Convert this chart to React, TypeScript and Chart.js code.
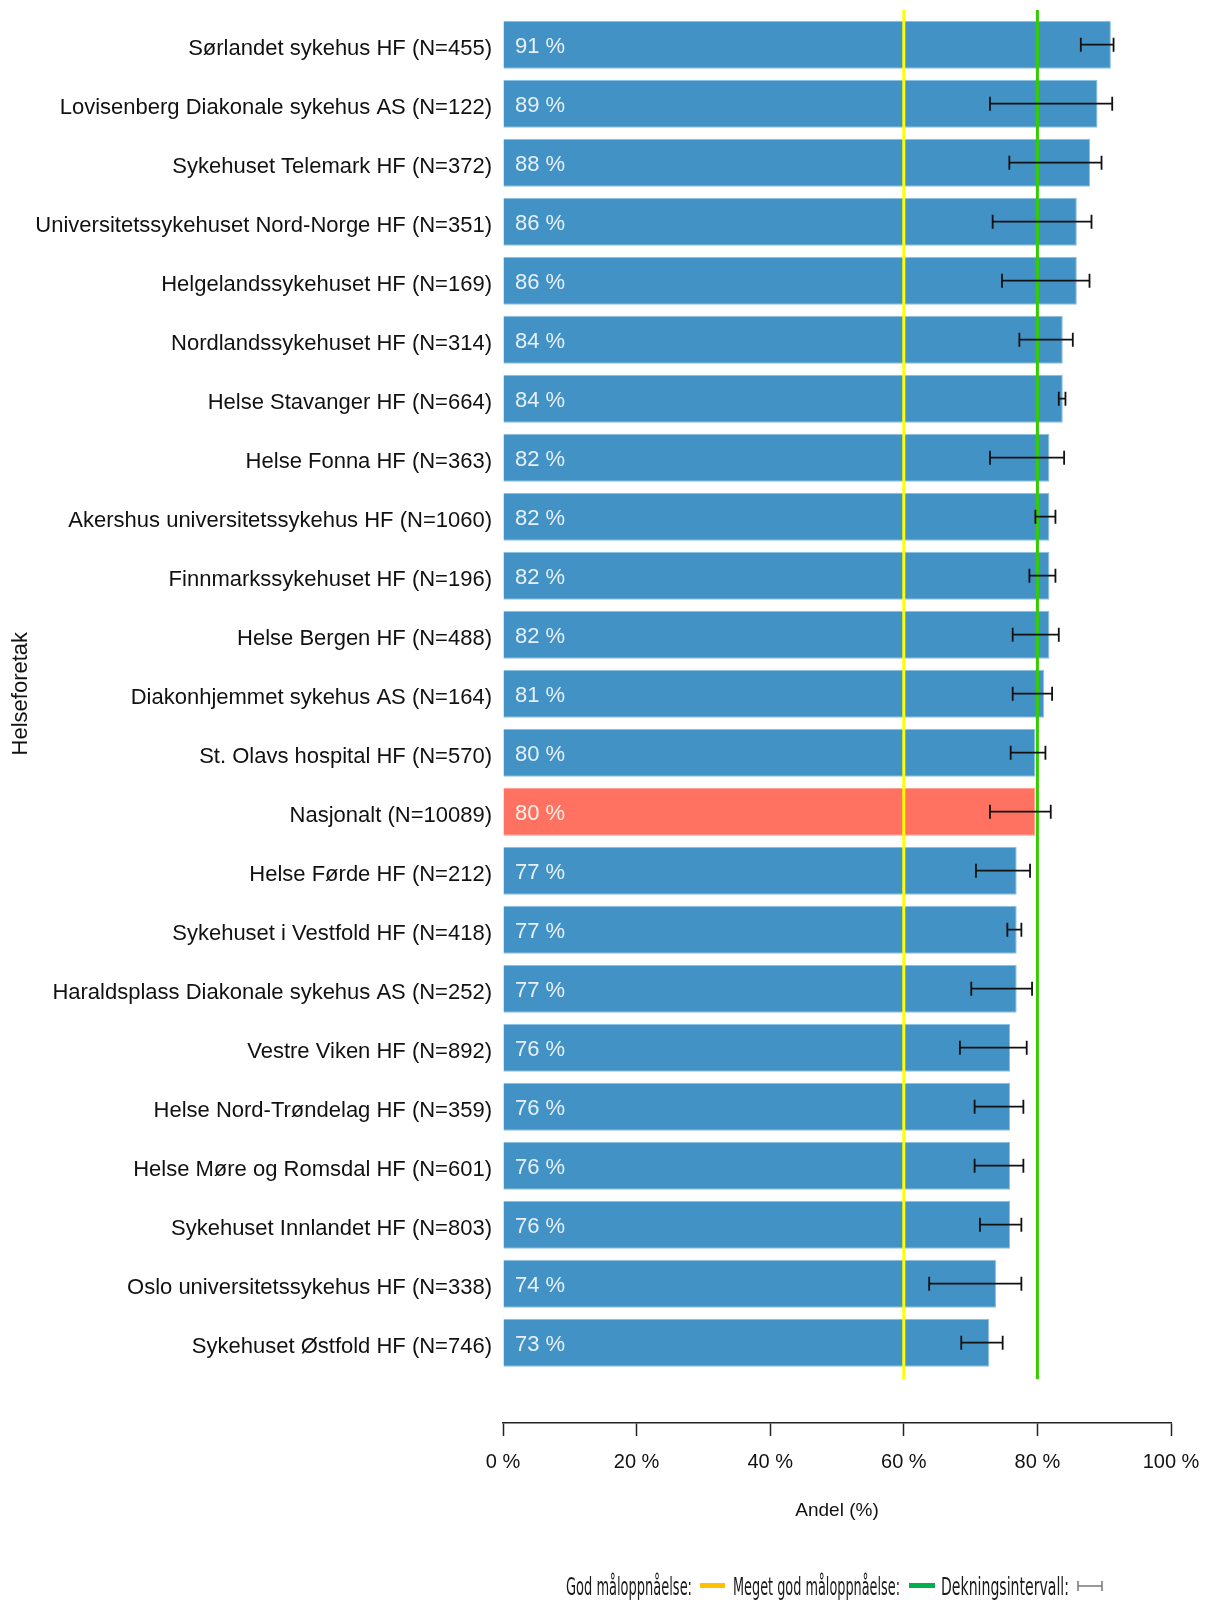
import React, { useEffect, useRef } from 'react';
import { Chart, registerables } from 'chart.js';

Chart.register(...registerables);

const categories: string[] = [
  'Sørlandet sykehus HF (N=455)',
  'Lovisenberg Diakonale sykehus AS (N=122)',
  'Sykehuset Telemark HF (N=372)',
  'Universitetssykehuset Nord-Norge HF (N=351)',
  'Helgelandssykehuset HF (N=169)',
  'Nordlandssykehuset HF (N=314)',
  'Helse Stavanger HF (N=664)',
  'Helse Fonna HF (N=363)',
  'Akershus universitetssykehus HF (N=1060)',
  'Finnmarkssykehuset HF (N=196)',
  'Helse Bergen HF (N=488)',
  'Diakonhjemmet sykehus AS (N=164)',
  'St. Olavs hospital HF (N=570)',
  'Nasjonalt (N=10089)',
  'Helse Førde HF (N=212)',
  'Sykehuset i Vestfold HF (N=418)',
  'Haraldsplass Diakonale sykehus AS (N=252)',
  'Vestre Viken HF (N=892)',
  'Helse Nord-Trøndelag HF (N=359)',
  'Helse Møre og Romsdal HF (N=601)',
  'Sykehuset Innlandet HF (N=803)',
  'Oslo universitetssykehus HF (N=338)',
  'Sykehuset Østfold HF (N=746)',
];

const values: number[] = [
  91.0, 89.0, 87.9, 85.9, 85.9, 83.8, 83.8, 81.8, 81.8, 81.8, 81.8, 81.0,
  79.7, 79.7, 76.9, 76.9, 76.9, 75.9, 75.9, 75.9, 75.9, 73.8, 72.8,
];

const ciLow: number[] = [
  86.5, 72.9, 75.8, 73.3, 74.7, 77.3, 83.2, 72.9, 79.7, 78.8, 76.3, 76.3,
  76.0, 72.9, 70.8, 75.5, 70.1, 68.4, 70.6, 70.6, 71.4, 63.8, 68.6,
];

const ciHigh: number[] = [
  91.4, 91.2, 89.6, 88.1, 87.8, 85.3, 84.2, 84.0, 82.7, 82.7, 83.2, 82.2,
  81.2, 82.0, 78.9, 77.6, 79.2, 78.4, 77.9, 77.9, 77.6, 77.6, 74.8,
];

const nationalLabel = 'Nasjonalt (N=10089)';
const targetGood = 60;
const targetVeryGood = 80;
const xTickValues: number[] = [0, 20, 40, 60, 80, 100];
const xTitle = 'Andel (%)';
const yTitle = 'Helseforetak';
const legendLabels: string[] = ['God måloppnåelse:', 'Meget god måloppnåelse:', 'Dekningsintervall:'];

const W = 1194;
const H = 1595;
const OFF = 8; // page offset of canvas (body margin)

const BAR_BLUE = '#4292c6';
const BAR_NATIONAL = '#ff7261';

const overlayPlugin = {
  id: 'overlay',
  afterLayout(chart: any) {
    const xs = chart.scales.x;
    const area = chart.chartArea;
    xs.top = area.bottom + 50.8;
    xs.bottom = 1514.5;
    xs.height = xs.bottom - xs.top;
  },
  afterDatasetsDraw(chart: any) {
    const ctx = chart.ctx as CanvasRenderingContext2D;
    const xs = chart.scales.x;
    const area = chart.chartArea;
    ctx.save();
    // target lines
    const lines: [number, string][] = [
      [targetGood, '#ffff00'],
      [targetVeryGood, '#33cc00'],
    ];
    lines.forEach(([v, c]) => {
      const px = xs.getPixelForValue(v);
      ctx.beginPath();
      ctx.moveTo(px, area.top - 5.2);
      ctx.lineTo(px, area.bottom + 7);
      ctx.strokeStyle = c;
      ctx.lineWidth = 3;
      ctx.stroke();
    });
    const meta = chart.getDatasetMeta(0);
    // error bars
    ctx.strokeStyle = '#111';
    ctx.lineWidth = 1.8;
    meta.data.forEach((bar: any, i: number) => {
      const y = bar.y;
      const x1 = xs.getPixelForValue(ciLow[i]);
      const x2 = xs.getPixelForValue(ciHigh[i]);
      ctx.beginPath();
      ctx.moveTo(x1, y);
      ctx.lineTo(x2, y);
      ctx.moveTo(x1, y - 7);
      ctx.lineTo(x1, y + 7);
      ctx.moveTo(x2, y - 7);
      ctx.lineTo(x2, y + 7);
      ctx.stroke();
    });
    // value labels
    ctx.font = '22px "Liberation Sans", Arial, sans-serif';
    ctx.textAlign = 'left';
    ctx.textBaseline = 'middle';
    meta.data.forEach((bar: any, i: number) => {
      ctx.fillStyle = categories[i] === nationalLabel ? 'rgba(255,245,240,0.95)' : 'rgba(240,246,252,0.95)';
      ctx.fillText(`${Math.round(values[i])} %`, bar.base + 11.5, bar.y + 2);
    });
    ctx.restore();
  },
  afterDraw(chart: any) {
    const ctx = chart.ctx as CanvasRenderingContext2D;
    ctx.save();
    const baseY = 1595 - OFF;
    const drawSqueezed = (text: string, x: number, width: number) => {
      ctx.save();
      ctx.font = '24px "Liberation Sans Narrow", "DejaVu Sans Condensed", "Liberation Sans", sans-serif';
      const m = ctx.measureText(text).width;
      ctx.translate(x - OFF, baseY);
      ctx.scale(width / m, 1);
      ctx.textAlign = 'left';
      ctx.textBaseline = 'alphabetic';
      ctx.fillStyle = '#1a1a1a';
      ctx.fillText(text, 0, 0);
      ctx.restore();
    };
    drawSqueezed(legendLabels[0], 566, 126);
    ctx.fillStyle = '#ffc000';
    ctx.fillRect(700 - OFF, 1583 - OFF, 25, 5);
    drawSqueezed(legendLabels[1], 733, 167);
    ctx.fillStyle = '#00b050';
    ctx.fillRect(909 - OFF, 1583 - OFF, 26, 5);
    drawSqueezed(legendLabels[2], 941, 128);
    // error-bar icon
    ctx.strokeStyle = '#777';
    ctx.lineWidth = 1.5;
    const iy = 1586 - OFF;
    ctx.beginPath();
    ctx.moveTo(1078 - OFF, iy);
    ctx.lineTo(1102 - OFF, iy);
    ctx.moveTo(1078 - OFF, iy - 5);
    ctx.lineTo(1078 - OFF, iy + 5);
    ctx.moveTo(1102 - OFF, iy - 5);
    ctx.lineTo(1102 - OFF, iy + 5);
    ctx.stroke();
    ctx.restore();
  },
};

export default function App() {
  const canvasRef = useRef<HTMLCanvasElement | null>(null);

  useEffect(() => {
    if (!canvasRef.current) return;
    const chart = new Chart(canvasRef.current, {
      type: 'bar',
      data: {
        labels: categories,
        datasets: [
          {
            data: values,
            backgroundColor: categories.map((c) => (c === nationalLabel ? BAR_NATIONAL : BAR_BLUE)),
            borderColor: categories.map((c) => (c === nationalLabel ? '#ff9a8c' : '#8fbfe0')),
            borderWidth: 1,
            barPercentage: 0.814,
            categoryPercentage: 1,
          },
        ],
      },
      options: {
        indexAxis: 'y',
        responsive: false,
        animation: false,
        devicePixelRatio: 1,
        layout: { padding: { top: 7.2, right: 31, left: 0, bottom: 0 } },
        plugins: {
          legend: { display: false },
          tooltip: { enabled: false },
        },
        scales: {
          y: {
            type: 'category',
            grid: { display: false, drawTicks: false },
            border: { display: false },
            ticks: {
              autoSkip: false,
              padding: 11,
              labelOffset: 4,
              color: '#111',
              font: { family: '"Liberation Sans", Arial, sans-serif', size: 22 },
            },
            title: {
              display: true,
              text: yTitle,
              color: '#111',
              padding: 0,
              font: { family: '"Liberation Sans", Arial, sans-serif', size: 22 },
            },
            afterFit: (scale: any) => {
              scale.width = 495;
              scale.paddingTop = 0;
              scale.paddingBottom = 0;
            },
          },
          x: {
            type: 'linear',
            position: 'bottom',
            min: 0,
            max: 100,
            afterBuildTicks: (scale: any) => {
              scale.ticks = xTickValues.map((v) => ({ value: v }));
            },
            grid: {
              display: true,
              drawOnChartArea: false,
              drawTicks: true,
              tickLength: 13,
              tickColor: '#222',
              tickWidth: 1.5,
              color: '#222',
            },
            border: { display: true, color: '#222', width: 1.5 },
            ticks: {
              padding: 14,
              color: '#111',
              maxRotation: 0,
              font: { family: '"Liberation Sans", Arial, sans-serif', size: 20 },
              callback: (v: any) => `${v} %`,
            },
            title: {
              display: true,
              text: xTitle,
              color: '#111',
              padding: 0,
              font: { family: '"Liberation Sans", Arial, sans-serif', size: 19 },
            },
            afterFit: (scale: any) => {
              scale.height = H - 1364.2;
              scale.paddingLeft = 0;
              scale.paddingRight = 0;
            },
          },
        },
      } as any,
      plugins: [overlayPlugin],
    });
    return () => chart.destroy();
  }, []);

  return (
    <div style={{ width: W, height: H }}>
      <canvas ref={canvasRef} width={W} height={H} style={{ display: 'block', width: W, height: H }} />
    </div>
  );
}
